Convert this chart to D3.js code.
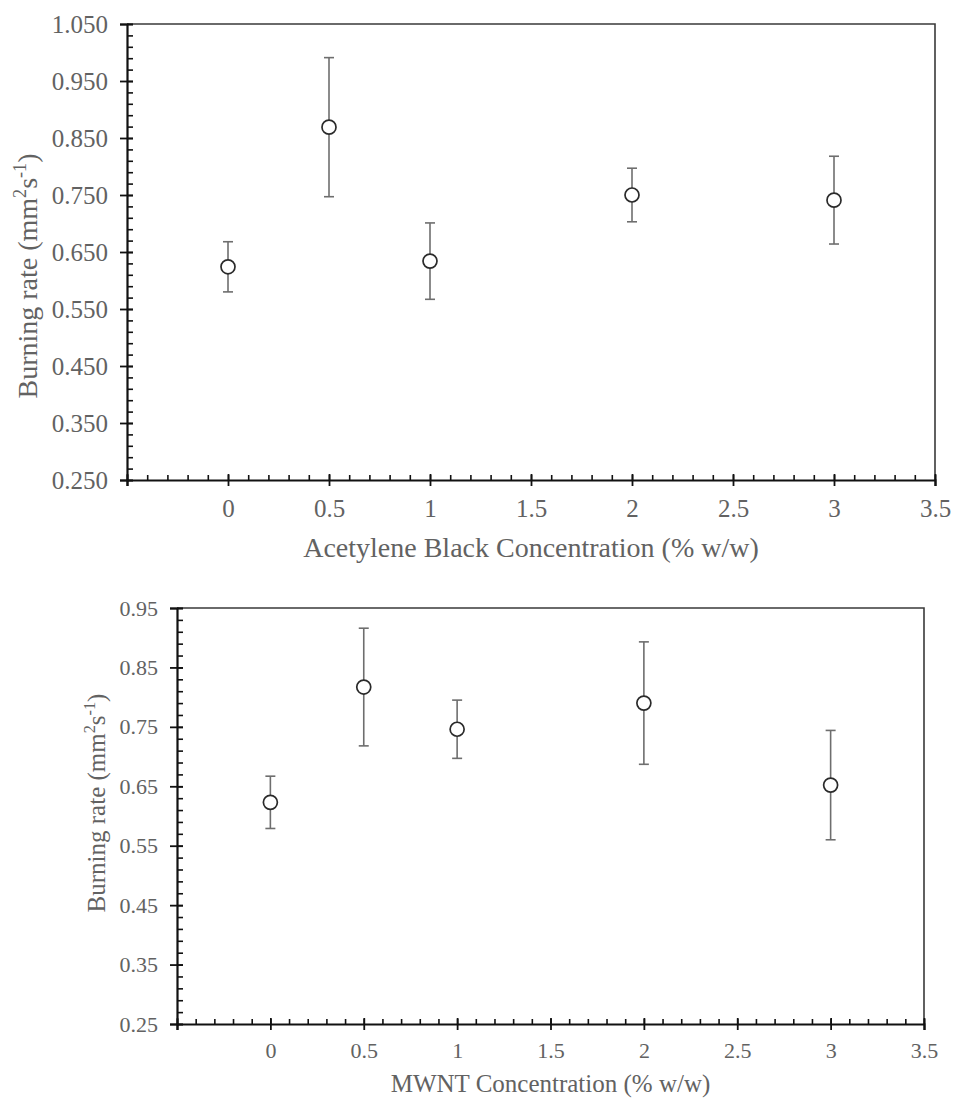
<!DOCTYPE html>
<html>
<head>
<meta charset="utf-8">
<script src="https://cdn.jsdelivr.net/npm/d3@7"></script>
</head>
<body style="margin:0; background:#fff">
<script>
// Burning rate vs additive concentration, two panels

const w = 954;
const h = 1104;
const textColor = "#626262";

// data
const concentrations = [0, 0.5, 1, 2, 3];
const acetyleneRate = [0.624, 0.869, 0.634, 0.750, 0.741];
const acetyleneErr  = [0.044, 0.122, 0.067, 0.047, 0.077];
const mwntRate = [0.623, 0.817, 0.746, 0.790, 0.652];
const mwntErr  = [0.044, 0.099, 0.049, 0.103, 0.092];

const xTicks = [0, 0.5, 1, 1.5, 2, 2.5, 3, 3.5];
const acetyleneYTicks = [0.25, 0.35, 0.45, 0.55, 0.65, 0.75, 0.85, 0.95, 1.05];
const mwntYTicks = [0.25, 0.35, 0.45, 0.55, 0.65, 0.75, 0.85, 0.95];

const svg = d3.select("body")
  .append("svg")
  .attr("width", w)
  .attr("height", h);

function serifText(sel, size) {
  return sel
    .style("font-family", "\"Liberation Serif\", serif")
    .style("font-size", size + "px")
    .attr("fill", textColor);
}

function drawPanel(p) {
  const x = d3.scaleLinear().domain([-0.5, 3.5]).range([p.left, p.right]);
  const y = d3.scaleLinear().domain(p.yDomain).range([p.bottom, p.top]);

  const g = svg.append("g");

  // frame (top + right)
  g.append("path")
    .attr("d", `M${p.left},${p.top}H${p.right}V${p.bottom}`)
    .attr("fill", "none")
    .attr("stroke", "#3a3a3a")
    .attr("stroke-width", 1.6);

  // minor ticks, pointing inward
  const xMinor = d3.range(-5, 36).map(i => i / 10);
  const yMinor = d3.range(Math.round(p.yDomain[0] * 100), Math.round(p.yDomain[1] * 100) + 1, 2).map(i => i / 100);

  g.append("g")
    .attr("transform", `translate(0,${p.bottom})`)
    .call(d3.axisBottom(x).tickValues(xMinor).tickSize(-5).tickFormat(""))
    .call(a => a.select(".domain").remove())
    .selectAll("line").attr("stroke", "#111").attr("stroke-width", 1.6);

  g.append("g")
    .attr("transform", `translate(${p.left},0)`)
    .call(d3.axisLeft(y).tickValues(yMinor).tickSize(-6).tickFormat(""))
    .call(a => a.select(".domain").remove())
    .selectAll("line").attr("stroke", "#111").attr("stroke-width", 1.6);

  // major x axis
  const xa = g.append("g")
    .attr("transform", `translate(0,${p.bottom})`)
    .call(d3.axisBottom(x).tickValues([-0.5].concat(xTicks)).tickSize(6).tickPadding(p.xPad)
      .tickFormat(d => d < 0 ? "" : d3.format("")(d)));
  xa.select(".domain").attr("stroke", "#111").attr("stroke-width", 2.2);
  xa.selectAll(".tick line").attr("y1", -6).attr("stroke", "#111").attr("stroke-width", 1.8);
  serifText(xa.selectAll(".tick text"), p.tickFont);

  // major y axis
  const ya = g.append("g")
    .attr("transform", `translate(${p.left},0)`)
    .call(d3.axisLeft(y).tickValues(p.yTicks).tickSize(7).tickPadding(p.yPad)
      .tickFormat(d3.format(p.yFormat)));
  ya.select(".domain").attr("stroke", "#111").attr("stroke-width", 2.2);
  ya.selectAll(".tick line").attr("x1", 6).attr("stroke", "#111").attr("stroke-width", 1.8);
  serifText(ya.selectAll(".tick text"), p.tickFont);

  // error bars
  const pts = concentrations.map((c, i) => ({ c: c, v: p.rate[i], e: p.err[i] }));
  const eb = g.selectAll(".err").data(pts).enter().append("g").attr("class", "err")
    .attr("stroke", "#6e6e6e").attr("stroke-width", 1.6);
  eb.append("line")
    .attr("x1", d => x(d.c)).attr("x2", d => x(d.c))
    .attr("y1", d => y(d.v + d.e)).attr("y2", d => y(d.v - d.e));
  eb.append("line")
    .attr("x1", d => x(d.c) - 5).attr("x2", d => x(d.c) + 5)
    .attr("y1", d => y(d.v + d.e)).attr("y2", d => y(d.v + d.e));
  eb.append("line")
    .attr("x1", d => x(d.c) - 5).attr("x2", d => x(d.c) + 5)
    .attr("y1", d => y(d.v - d.e)).attr("y2", d => y(d.v - d.e));

  g.selectAll("circle").data(pts).enter().append("circle")
    .attr("cx", d => x(d.c))
    .attr("cy", d => y(d.v))
    .attr("r", 7)
    .attr("fill", "#fff")
    .attr("stroke", "#2a2a2a")
    .attr("stroke-width", 1.7);

  // axis titles
  serifText(g.append("text"), p.titleFont)
    .attr("x", (p.left + p.right) / 2)
    .attr("y", p.xTitleY)
    .attr("text-anchor", "middle")
    .text(p.xTitle);

  const yt = serifText(g.append("text"), p.titleFont)
    .attr("transform", `translate(${p.yTitleX},${p.yTitleMid}) rotate(-90)`)
    .attr("text-anchor", "middle");
  const sup = p.titleFont * 0.65;
  yt.append("tspan").text("Burning rate (mm");
  yt.append("tspan").attr("dy", -p.titleFont * 0.4).style("font-size", sup + "px").text("2");
  yt.append("tspan").attr("dy", p.titleFont * 0.4).text("s");
  yt.append("tspan").attr("dy", -p.titleFont * 0.4).style("font-size", sup + "px").text("-1");
  yt.append("tspan").attr("dy", p.titleFont * 0.4).text(")");
}

drawPanel({
  left: 127, right: 935, top: 24, bottom: 480,
  yDomain: [0.25, 1.05], yTicks: acetyleneYTicks, yFormat: ".3f",
  rate: acetyleneRate, err: acetyleneErr,
  tickFont: 25, titleFont: 28, xPad: 13, yPad: 12,
  xTitle: "Acetylene Black Concentration (% w/w)", xTitleY: 557,
  yTitleX: 37, yTitleMid: 276
});

drawPanel({
  left: 177, right: 924, top: 608, bottom: 1024,
  yDomain: [0.25, 0.95], yTicks: mwntYTicks, yFormat: ".2f",
  rate: mwntRate, err: mwntErr,
  tickFont: 22, titleFont: 25, xPad: 12, yPad: 12,
  xTitle: "MWNT Concentration (% w/w)", xTitleY: 1092,
  yTitleX: 105, yTitleMid: 803
});
</script>
</body>
</html>
